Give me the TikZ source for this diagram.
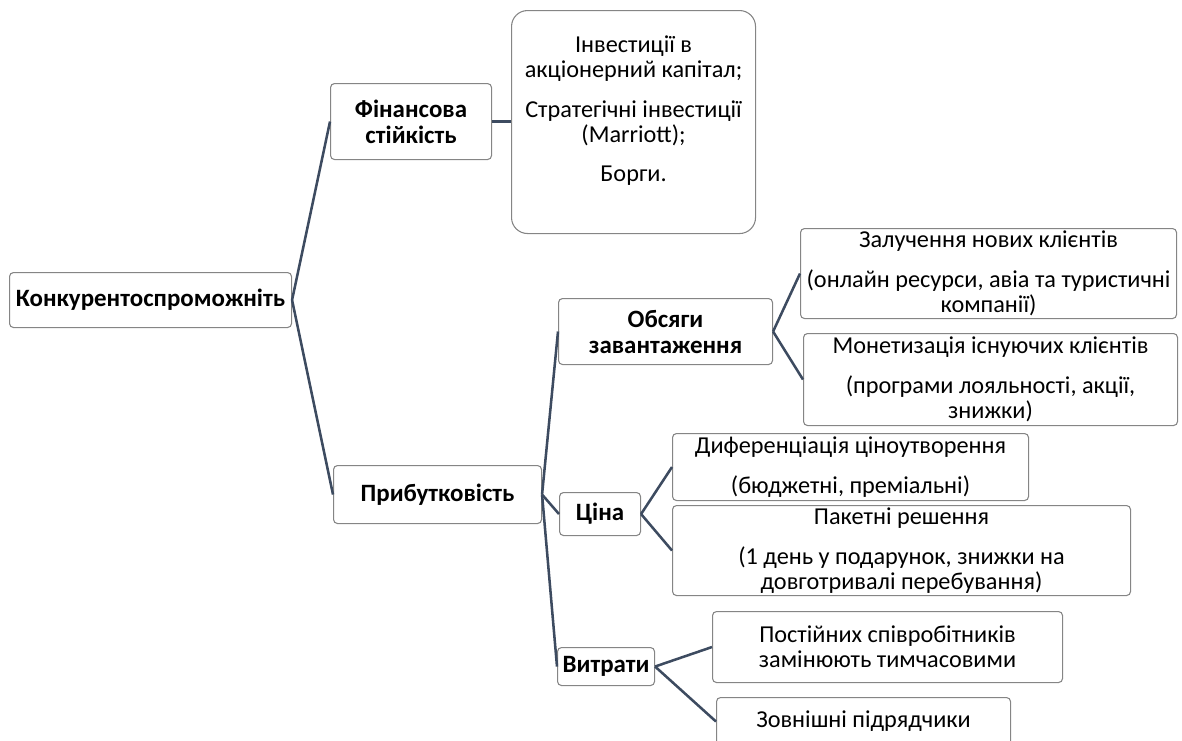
\documentclass[tikz,border=0pt]{standalone}
\usepackage{fontspec}
\setmainfont{Carlito}
\definecolor{boxgray}{HTML}{858585}
\definecolor{linkblue}{HTML}{3D4B60}
\tikzset{
	box/.style={draw=boxgray, line width=0.8pt, rounded corners=3pt, fill=white,
		align=center, anchor=north west, inner sep=0pt},
	head/.style={box, font=\fontsize{18.7}{19.5}\selectfont\bfseries},
	link/.style={draw=linkblue, line width=1.9pt},
}
\begin{document}
\begin{tikzpicture}[x=0.75pt, y=-0.75pt, font=\fontsize{18.2}{18.75}\selectfont]
			\useasboundingbox (0,0) rectangle (1182,740);
			
			% levels 1 and 2
			\node[head, minimum width=211.5pt, minimum height=41.25pt] (root) at (9,272)   {Конкурентоспроможніть};
			\node[head, minimum width=120.75pt, minimum height=57pt]   (fin)  at (330,83)  {Фінансова\\стійкість};
			\node[head, minimum width=156pt, minimum height=43.5pt]    (prib) at (333,465) {Прибутковість};
			\node[box, rounded corners=12pt] (inv) at (511,10)
				{\parbox[t][167.25pt][t]{183pt}{\centering\vspace*{19pt}Інвестиції в\\акціонерний капітал;\\[11pt]Стратегічні інвестиції\\(Marriott);\\[11pt]Борги.}};
			
			% level 3
			\node[head, minimum width=160.5pt, minimum height=49.5pt]  (obs)  at (558,298) {Обсяги\\завантаження};
			\node[head, minimum width=60.75pt, minimum height=32.25pt] (cina) at (559,492) {Ціна};
			\node[head, minimum width=72.75pt, minimum height=28.5pt]  (vytr) at (557,647) {Витрати};
			
			% level 4
			\node[box, minimum width=282pt, minimum height=67.5pt]    (zal)  at (800,228) {Залучення нових клієнтів\\[11pt](онлайн ресурси, авіа та туристичні\\компанії)};
			\node[box, minimum width=280.5pt, minimum height=69pt]    (mon)  at (803,333) {Монетизація існуючих клієнтів\\[11pt](програми лояльності, акції,\\знижки)};
			\node[box, minimum width=267pt, minimum height=50.25pt]   (dyf)  at (672,433) {Диференціація ціноутворення\\[11pt](бюджетні, преміальні)};
			\node[box, minimum width=343.5pt, minimum height=67.5pt]  (pak)  at (672,505) {Пакетні решення\\[11pt](1 день у подарунок, знижки на\\довготривалі перебування)};
			\node[box, minimum width=262.5pt, minimum height=53.25pt] (post) at (712,611) {Постійних співробітників\\замінюють тимчасовими};
			\node[box, minimum width=220.5pt, minimum height=36pt]    (zovn) at (716,697) {Зовнішні підрядчики};
			
			% connectors
			\draw[link] (root.east) -- (fin.west);
			\draw[link] (root.east) -- (prib.west);
			\draw[link] (fin.east) -- (inv.west |- fin.east);
			\draw[link] (prib.east) -- (obs.west);
			\draw[link] (prib.east) -- (cina.west);
			\draw[link] (prib.east) -- (vytr.west);
			\draw[link] (obs.east) -- (zal.west);
			\draw[link] (obs.east) -- (mon.west);
			\draw[link] (cina.east) -- (dyf.west);
			\draw[link] (cina.east) -- (pak.west);
			\draw[link] (vytr.east) -- (post.west);
			\draw[link] (vytr.east) -- (zovn.west);
		\end{tikzpicture}
\end{document}
